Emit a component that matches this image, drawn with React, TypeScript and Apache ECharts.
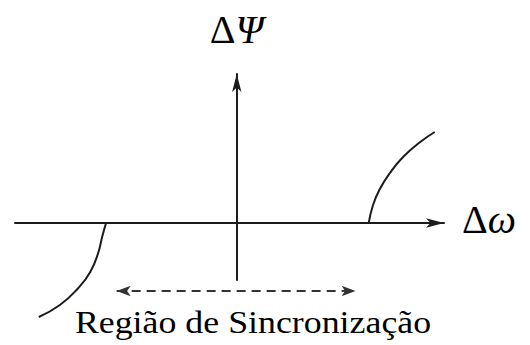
import React, { useEffect, useRef } from 'react';
import * as echarts from 'echarts';

// Δω range (scaled so the synchronisation limits sit near ±1) and ΔΨ range
const xRange: [number, number] = [-1.68, 1.57];
const yRange: [number, number] = [-0.57, 1.49];

// ΔΨ branch beyond the upper synchronisation limit
const upperBranch: [number, number][] = [
  [1.0, 0], [1.03, 0.17], [1.08, 0.33], [1.16, 0.5], [1.26, 0.66], [1.39, 0.81], [1.5, 0.91],
];
// ΔΨ branch beyond the lower synchronisation limit
const lowerBranch: [number, number][] = [
  [-0.99, 0], [-1.02, -0.14], [-1.05, -0.3], [-1.11, -0.49], [-1.2, -0.65], [-1.34, -0.82], [-1.5, -0.94],
];
// Ends of the double arrow spanning the synchronisation region
const syncArrow: [number, number][] = [[-0.91, -0.68], [0.9, -0.68]];

const xName = ['Δ', 'ω'];
const yName = ['Δ', 'Ψ'];
const regionLabel = 'Região de Sincronização';

const ink = '#1c1c1c';
const serif = 'Times New Roman';

const nameRich = {
  d: { fontFamily: serif, fontSize: 40, color: '#000' },
  v: { fontFamily: serif, fontSize: 40, fontStyle: 'italic', color: '#000' },
};

const axisBase = {
  type: 'value' as const,
  axisTick: { show: false },
  axisLabel: { show: false },
  splitLine: { show: false },
  nameLocation: 'end' as const,
};

export default function App() {
  const ref = useRef<HTMLDivElement>(null);

  useEffect(() => {
    if (!ref.current) return;
    const chart = echarts.init(ref.current, undefined, { renderer: 'svg' });
    chart.setOption({
      animation: false,
      backgroundColor: '#ffffff',
      textStyle: { fontFamily: serif },
      grid: { left: 15, right: 86, top: 74, bottom: 65, containLabel: false },
      xAxis: {
        ...axisBase,
        min: xRange[0],
        max: xRange[1],
        axisLine: {
          onZero: true,
          symbol: ['none', 'arrow'],
          symbolSize: [7, 18],
          lineStyle: { color: ink, width: 2 },
        },
        name: `{d|${xName[0]}}{v|${xName[1]}}`,
        nameGap: 18,
        nameTextStyle: { fontFamily: serif, fontSize: 40, padding: [0, 0, 8, 0], rich: nameRich },
      },
      yAxis: {
        ...axisBase,
        min: yRange[0],
        max: yRange[1],
        axisLine: {
          onZero: true,
          symbol: ['none', 'arrow'],
          symbolSize: [7, 18],
          lineStyle: { color: ink, width: 2 },
        },
        name: `{d|${yName[0]}}{v|${yName[1]}}`,
        nameGap: 25,
        nameTextStyle: { fontFamily: serif, fontSize: 40, rich: nameRich },
      },
      series: [
        {
          type: 'line',
          data: upperBranch,
          smooth: true,
          showSymbol: false,
          clip: false,
          lineStyle: { color: ink, width: 2 },
        },
        {
          type: 'line',
          data: lowerBranch,
          smooth: true,
          showSymbol: false,
          clip: false,
          lineStyle: { color: ink, width: 2 },
        },
        {
          type: 'line',
          data: [
            { value: syncArrow[0], symbol: 'arrow', symbolSize: [8, 14], symbolRotate: 90 },
            { value: syncArrow[1], symbol: 'arrow', symbolSize: [8, 14], symbolRotate: -90 },
          ],
          showSymbol: true,
          clip: false,
          itemStyle: { color: '#333' },
          lineStyle: { color: '#333', width: 2, type: [9, 6] },
        },
      ],
      graphic: [
        {
          type: 'text',
          x: 253,
          y: 322,
          scaleX: 1.12,
          style: {
            text: regionLabel,
            fontFamily: serif,
            fontSize: 32,
            fill: '#000',
            textAlign: 'center',
            textVerticalAlign: 'middle',
          },
        },
      ],
    });
    return () => chart.dispose();
  }, []);

  return (
    <div
      ref={ref}
      style={{ position: 'fixed', left: 0, top: 0, width: 530, height: 345, background: '#fff' }}
    />
  );
}
